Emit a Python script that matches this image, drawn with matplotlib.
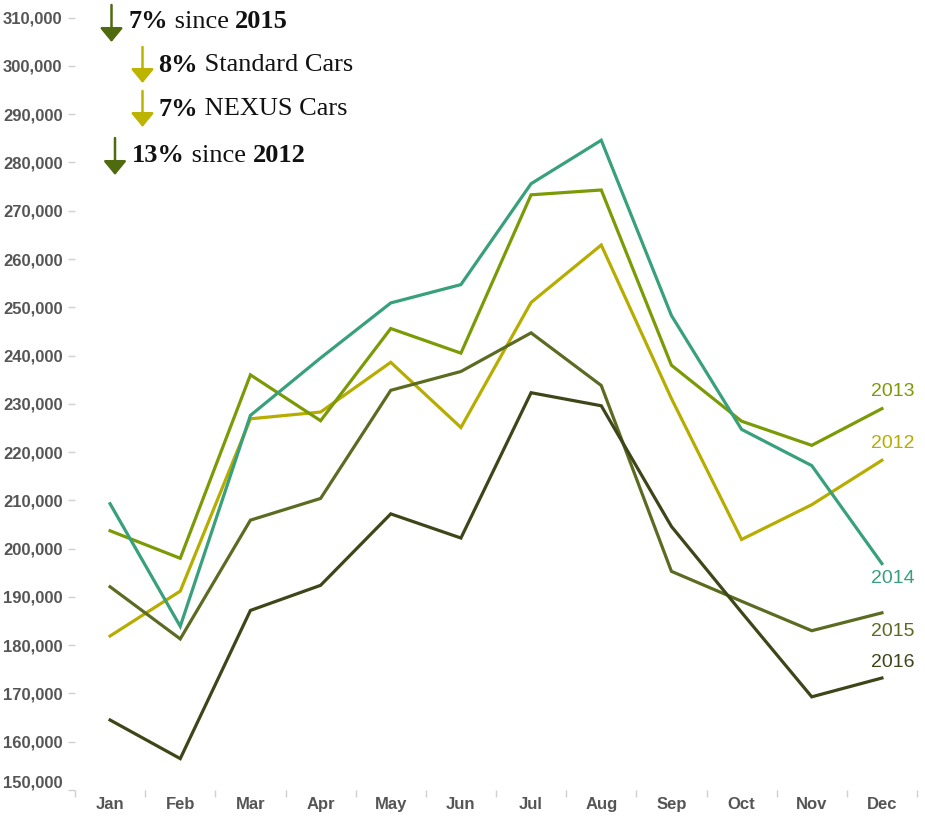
import matplotlib
matplotlib.use('Agg')
import matplotlib.pyplot as plt
from matplotlib.ticker import FuncFormatter, FixedLocator

months = ['Jan', 'Feb', 'Mar', 'Apr', 'May', 'Jun', 'Jul', 'Aug', 'Sep', 'Oct', 'Nov', 'Dec']

y2012 = [181900, 191200, 226900, 228300, 238600, 225100, 251000, 262900, 231100, 201900, 209100, 218300]
y2013 = [203700, 198000, 236000, 226500, 245600, 240500, 273300, 274300, 238000, 226400, 221400, 229000]
y2014 = [209300, 183900, 227600, 239500, 250900, 254700, 275600, 284600, 248300, 224700, 217200, 196900]
y2015 = [192100, 181300, 205900, 210400, 232800, 236700, 244700, 233800, 195300, 189100, 183000, 186700]
y2016 = [164500, 156500, 187200, 192400, 207200, 202200, 232300, 229600, 204600, 186800, 169300, 173200]

series_names = ['2012', '2013', '2014', '2015', '2016']
series_values = [y2012, y2013, y2014, y2015, y2016]
colors = ['#b7ad00', '#7b9b06', '#38a07a', '#5b6b22', '#3e4619']
# label offset (pixels) from the Dec point
label_dy = [17, 17, -15, -19, 16]

yticks = list(range(150000, 310001, 10000))

notes = [
    # (pieces, arrow colour)
    ([('7%', 'bold'), (' since ', 'normal'), ('2015', 'bold')], '#4f6a0f'),
    ([('8%', 'bold'), (' Standard Cars', 'normal')], '#bcb400'),
    ([('7%', 'bold'), (' NEXUS Cars', 'normal')], '#bcb400'),
    ([('13%', 'bold'), (' since ', 'normal'), ('2012', 'bold')], '#4f6a0f'),
]
# arrow x, arrow top y, arrow bottom y, text x, text centre y (image pixels, from top)
note_pos = [(111.5, 5, 42, 128, 22), (142.5, 47, 83, 158, 65),
            (142.5, 91, 127, 158, 109), (115, 138, 175, 132, 156)]

W, H = 925, 817
fig = plt.figure(figsize=(W / 100, H / 100), dpi=100)
ax = fig.add_axes([75 / W, 27 / H, 842 / W, 782 / H])

for name, vals, c, dy in zip(series_names, series_values, colors, label_dy):
    ax.plot(range(len(months)), vals, color=c, lw=2.3, solid_joinstyle='miter')
    ax.annotate(name, (11, vals[-1]), xytext=(-11, dy), textcoords='offset pixels',
                ha='left', va='center', color=c, fontsize=14, family='Liberation Sans')

ax.set_xlim(-0.5, 11.5)
ax.set_ylim(150000, 312000)

for s in ax.spines.values():
    s.set_visible(False)

tick_font = ['Liberation Sans Narrow', 'Liberation Sans']
ax.set_yticks(yticks)
ax.yaxis.set_major_formatter(FuncFormatter(lambda v, p: f'{int(v):,}'))
ax.tick_params(axis='y', length=5, width=1, color='#d0d0d0', pad=4, labelcolor='#555555')
for lbl in ax.get_yticklabels():
    lbl.set_family(tick_font)
    lbl.set_weight('bold')
    lbl.set_fontsize(12)
ax.get_yticklabels()[0].set_va('bottom')

ax.set_xticks(range(len(months)))
ax.set_xticklabels(months)
ax.xaxis.set_minor_locator(FixedLocator([i - 0.5 for i in range(len(months) + 1)]))
ax.tick_params(axis='x', which='major', length=0, pad=5, labelcolor='#555555')
ax.tick_params(axis='x', which='minor', length=5, width=1, color='#d0d0d0')
for lbl in ax.get_xticklabels():
    lbl.set_family(tick_font)
    lbl.set_weight('bold')
    lbl.set_fontsize(12)

# annotations in the top left
renderer = fig.canvas.get_renderer()
for (pieces, acol), (ax_x, y0, y1, tx, ty) in zip(notes, note_pos):
    ax.annotate('', xy=(ax_x, H - y1), xycoords='figure pixels',
                xytext=(ax_x, H - y0), textcoords='figure pixels',
                arrowprops=dict(arrowstyle='-|>,head_width=0.7,head_length=0.85',
                                color=acol, lw=1.8, shrinkA=0, shrinkB=0))
    x = tx
    for txt, wt in pieces:
        t = fig.text(x, H - ty, txt, transform=None, fontsize=19,
                     family='Liberation Serif', weight=wt, va='center', ha='left',
                     color='#111111')
        x = t.get_window_extent(renderer).x1

fig.savefig('out.png', dpi=100)
